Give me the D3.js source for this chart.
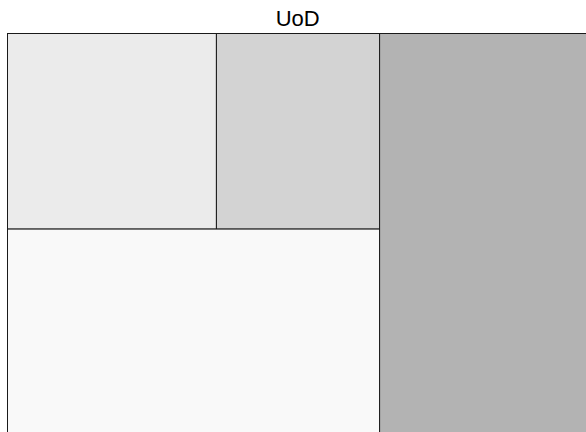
<!DOCTYPE html>
<html>
<head>
<meta charset="utf-8">
<script src="https://cdn.jsdelivr.net/npm/d3@7"></script>
<style>
  body { margin: 0; background: #fff; }
  svg { display: block; }
</style>
</head>
<body>
<div id="chart"></div>
<script>
// groups and leaf values (share of the whole, in %)
var groupNames = ['left', 'right'];
var rowNames = ['top', 'bottom'];
var leafNames = ['A', 'B', 'C', 'D'];
var leafValues = [16.9, 13.2, 34.0, 35.9];
var leafColors = ['#ebebeb', '#d3d3d3', '#f9f9f9', '#b3b3b3'];
var title = 'UoD';

var width = 586, height = 432;
var mapLeft = 7.5, mapTop = 33.5, mapW = 580.5, mapH = 416.5;

var svg = d3.select('#chart').append('svg')
	.attr('width', width)
	.attr('height', height);

// left group: top row with A and B, bottom row with C; right group: D
var tree = {
	name: 'root',
	children: [
		{ name: groupNames[0], children: [
			{ name: rowNames[0], children: [
				{ name: leafNames[0], value: leafValues[0], color: leafColors[0] },
				{ name: leafNames[1], value: leafValues[1], color: leafColors[1] }
			]},
			{ name: rowNames[1], children: [
				{ name: leafNames[2], value: leafValues[2], color: leafColors[2] }
			]}
		]},
		{ name: groupNames[1], value: leafValues[3], color: leafColors[3] }
	]
};

var root = d3.hierarchy(tree).sum(function(d) { return d.value || 0; });

d3.treemap()
	.tile(d3.treemapSliceDice)
	.size([mapW, mapH])
	.round(false)
	(root);

var cells = svg.append('g')
	.attr('transform', 'translate(' + mapLeft + ',' + mapTop + ')');

cells.selectAll('rect')
	.data(root.leaves())
	.enter().append('rect')
	.attr('x', function(d) { return d.x0; })
	.attr('y', function(d) { return d.y0; })
	.attr('width', function(d) { return d.x1 - d.x0; })
	.attr('height', function(d) { return d.y1 - d.y0; })
	.attr('fill', function(d) { return d.data.color; })
	.attr('stroke', '#1a1a1a')
	.attr('stroke-width', 1);

svg.append('text')
	.attr('x', mapLeft + mapW / 2)
	.attr('y', 26)
	.attr('text-anchor', 'middle')
	.style('font-family', 'Liberation Sans, Arial, sans-serif')
	.style('font-size', '22px')
	.attr('fill', '#000')
	.text(title);
</script>
</body>
</html>
